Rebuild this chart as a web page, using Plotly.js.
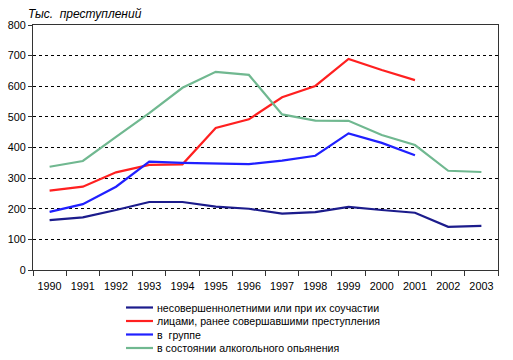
<!DOCTYPE html>
<html>
<head>
<meta charset="utf-8">
<script src="https://cdn.plot.ly/plotly-3.0.1.min.js"></script>
<style>body{margin:0;padding:0;background:#fff}#chart{width:513px;height:360px}</style>
</head>
<body>
<div id="chart"></div>
<script>
const years = ["1990","1991","1992","1993","1994","1995","1996","1997","1998","1999","2000","2001","2002","2003"];
const minors = [163,172,196,222,222,207,200,184,189,206,196,187,141,144];
const repeaters = [259,272,319,343,345,464,492,564,601,689,653,620,null,null];
const groups = [190,215,272,354,350,348,346,357,373,446,415,375,null,null];
const drunk = [337,356,435,512,595,647,637,508,488,487,441,408,324,320];
const names = ["несовершеннолетними или при их соучастии","лицами, ранее совершавшими преступления","в  группе","в состоянии алкогольного опьянения"];
const colors = ["#1c1c8c","#ff2020","#2020ff","#70b890"];
const series = [minors, repeaters, groups, drunk];
const yTicks = [0,100,200,300,400,500,600,700,800];

const traces = series.map((s,i)=>({
  x: years, y: s, type:"scatter", mode:"lines", name: names[i],
  line:{color: colors[i], width:2.2}, connectgaps:false
}));

// Custom compact legend (paper coordinates)
const plotL = 33, plotW = 465, plotB = 270, plotH = 245;
const px2x = p => (p - plotL) / plotW;
const px2y = p => (plotB - p) / plotH;
const legendRows = [307.5, 321, 334.5, 348];
const shapes = [];
const annotations = [{text:"<i>Тыс.  преступлений</i>", xref:"paper", yref:"paper",
    x:-0.015, y:1.0, xanchor:"left", yanchor:"bottom", yshift:2, showarrow:false,
    font:{size:12, color:"#000"}}];
names.forEach((n,i)=>{
  shapes.push({type:"line", xref:"paper", yref:"paper",
    x0:px2x(126), x1:px2x(153), y0:px2y(legendRows[i]), y1:px2y(legendRows[i]),
    line:{color:colors[i], width:2.2}});
  annotations.push({text:n, xref:"paper", yref:"paper", x:px2x(155), y:px2y(legendRows[i]),
    xanchor:"left", yanchor:"middle", showarrow:false, font:{size:10.6, color:"#000"}});
});

const layout = {
  width:513, height:360,
  margin:{l:33, r:15, t:25, b:90},
  paper_bgcolor:"#fff", plot_bgcolor:"#fff",
  font:{family:"Liberation Sans, Arial, sans-serif", size:11, color:"#000"},
  showlegend:false,
  xaxis:{type:"category", range:[-0.5,13.5], tickvals:years, ticktext:years,
    tickson:"boundaries", ticks:"outside", ticklen:5, tickcolor:"#333", tickangle:0,
    automargin:false, ticklabelstandoff:6,
    showline:true, linecolor:"#333", linewidth:1, mirror:true, showgrid:false,
    tickfont:{size:10.8}, fixedrange:true},
  yaxis:{range:[0,800], tickvals:yTicks, ticks:"outside", ticklen:4, tickcolor:"#333",
    automargin:false,
    showline:true, linecolor:"#333", linewidth:1, mirror:true,
    showgrid:true, gridcolor:"#000", gridwidth:1, griddash:"3px,3px",
    zeroline:false, tickfont:{size:10.8}, fixedrange:true},
  shapes: shapes,
  annotations: annotations
};
Plotly.newPlot("chart", traces, layout, {displayModeBar:false, staticPlot:true});
</script>
</body>
</html>
